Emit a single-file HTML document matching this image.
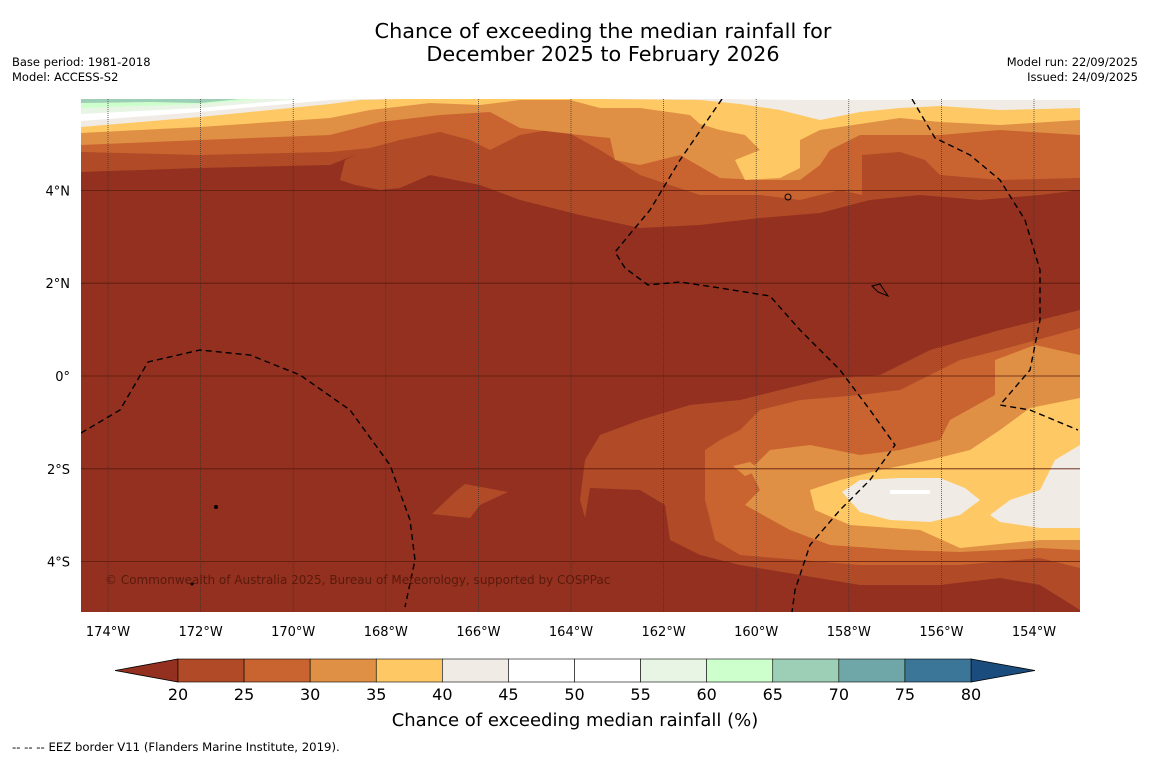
<!DOCTYPE html>
<html><head><meta charset="utf-8"><style>
body{margin:0;background:#fff;width:1150px;height:758px;overflow:hidden;font-family:"DejaVu Sans","Liberation Sans",sans-serif}
svg{display:block}
</style></head><body>
<svg width="1150" height="758" viewBox="0 0 1150 758">
<text x="603" y="38" text-anchor="middle" font-size="20.8" fill="#000">Chance of exceeding the median rainfall for</text>
<text x="603" y="61" text-anchor="middle" font-size="20.8" fill="#000">December 2025 to February 2026</text>
<text x="12" y="66" font-size="11.5">Base period: 1981-2018</text>
<text x="12" y="81" font-size="11.5">Model: ACCESS-S2</text>
<text x="1138" y="66" font-size="11.5" text-anchor="end">Model run: 22/09/2025</text>
<text x="1138" y="81" font-size="11.5" text-anchor="end">Issued: 24/09/2025</text>
<defs><clipPath id="mc"><rect x="81" y="99" width="999" height="513"/></clipPath></defs>
<g clip-path="url(#mc)">
<rect x="81" y="99" width="999" height="513" fill="#93301f"/>
<polygon fill="#b04a27" points="81,99 1080,99 1080,190 1040,195 980,200 920,195 870,200 820,213 760,218 700,225 640,228 580,215 520,200 480,185 430,175 400,188 380,190 355,185 340,180 345,160 355,155 330,165 200,168 81,172"/>
<polygon fill="#c96430" points="81,99 1080,99 1080,178 1000,180 940,175 925,160 900,152 862,155 862,195 840,190 800,200 760,195 700,195 640,175 600,150 560,128 520,135 490,150 470,140 440,132 400,140 370,148 330,152 200,155 81,152"/>
<polygon fill="#e09044" points="81,99 1080,99 1080,135 1000,130 940,135 860,135 830,150 820,165 800,180 760,180 720,178 680,155 640,165 615,160 610,138 580,135 520,128 490,112 440,115 380,122 330,135 200,140 81,145"/>
<polygon fill="#fec864" points="81,99 1080,99 1080,120 1000,125 940,122 900,118 820,130 800,140 800,168 780,178 745,180 735,160 760,150 745,135 720,130 700,124 690,115 640,108 600,108 570,100 520,100 480,105 430,103 370,110 330,118 200,127 81,133"/>
<polygon fill="#f0ebe4" points="81,99 1080,99 1080,108 1000,110 940,106 900,108 860,112 820,120 780,110 740,104 700,100 600,99 520,99 480,99 400,99 360,100 330,104 200,117 81,127"/>
<polygon fill="#ffffff" points="81,99 1080,99 1080,100 900,100 800,100 720,99 360,99 330,100 200,112 81,121"/>
<polygon fill="#e8f5e4" points="81,99 300,99 200,108 81,114"/>
<polygon fill="#ccffcc" points="81,99 260,99 200,104 81,108"/>
<polygon fill="#9ccfb5" points="81,99 240,99 200,103 150,102 81,103"/>
<polygon fill="#b04a27" points="1080,310 1000,330 930,350 880,375 830,378 780,390 740,400 690,405 640,420 600,435 585,460 580,500 585,518 590,488 640,490 665,505 670,540 700,555 740,565 800,575 860,585 940,585 1000,578 1040,585 1080,610 1080,612"/>
<polygon fill="#b04a27" points="432,514 455,492 465,484 508,492 480,505 470,518"/>
<polygon fill="#c96430" points="1080,328 1000,350 960,360 920,380 900,390 860,395 800,400 760,410 740,430 720,440 705,450 705,500 715,540 740,555 800,560 860,565 960,565 1040,558 1080,568"/>
<polygon fill="#e09044" points="1080,355 1035,345 995,360 995,395 950,420 940,440 900,450 860,455 810,445 770,450 750,470 760,490 745,505 790,530 830,545 900,550 960,552 1040,548 1080,550"/>
<polygon fill="#e09044" points="733,466 750,462 760,470 745,476"/>
<polygon fill="#fec864" points="1080,398 1030,408 1000,430 970,450 930,460 880,470 840,480 810,490 815,510 850,525 920,530 960,548 1040,540 1080,540"/>
<polygon fill="#f0ebe4" points="842,492 860,480 900,478 940,478 965,488 980,500 960,515 930,522 890,520 860,512"/>
<polygon fill="#f0ebe4" points="990,515 1010,500 1040,490 1055,460 1080,445 1080,528 1040,528 1000,522"/>
<rect x="890" y="490" width="40" height="4" fill="#fff"/>
<g id="grid"></g>
<g fill="none" stroke="#000" stroke-width="1.4" stroke-dasharray="6,4">
<polyline points="81,433 120,410 148,362 200,350 250,355 300,375 350,410 390,465 410,520 415,560 405,607"/>
<polyline points="722,99 680,160 650,210 615,252 625,268 648,285 680,282 720,288 770,296 800,330 840,370 870,410 895,445 870,480 840,510 810,545 795,590 792,612"/>
<polyline points="912,99 935,138 970,155 1000,180 1025,220 1040,270 1040,320 1030,370 1000,405 1030,410 1078,430"/>
</g>
<ellipse cx="788" cy="197" rx="3" ry="3" fill="none" stroke="#000"/>
<path d="M872,286 L880,284 L888,296 L878,292Z" fill="none" stroke="#000"/>
<circle cx="216" cy="507" r="2" fill="#000"/>
<circle cx="192" cy="584" r="1.5" fill="#000"/>
<text x="105" y="584" font-size="12" fill="#5a1a0c">© Commonwealth of Australia 2025, Bureau of Meteorology, supported by COSPPac</text>
</g>
<g id="axes"></g>
<g id="cbar"></g>
<text x="575" y="726" text-anchor="middle" font-size="18">Chance of exceeding median rainfall (%)</text>
<text x="12" y="751" font-size="11.7">--  --  -- EEZ border V11 (Flanders Marine Institute, 2019).</text>
</svg>
<script>
const lonTicks=[174,172,170,168,166,164,162,160,158,156,154];
const latTicks=[4,2,0,-2,-4];
const cbTicks=[20,25,30,35,40,45,50,55,60,65,70,75,80];
const cbColors=["#b04a27","#c96430","#e09044","#fec864","#f0ebe4","#ffffff","#ffffff","#e8f5e4","#ccffcc","#9ccfb5","#6fa6a8","#3b7597"];
const NS="http://www.w3.org/2000/svg";
const xLon=l=>108+(174-l)*46.3;
const yLat=a=>376-a*46.4;
const xCb=v=>178+(v-20)*(971-178)/60;
function mk(t,a,p){const e=document.createElementNS(NS,t);for(const k in a)e.setAttribute(k,a[k]);p.appendChild(e);return e;}
const g=document.getElementById('grid'),ax=document.getElementById('axes'),cb=document.getElementById('cbar');
lonTicks.forEach(l=>{const x=xLon(l);
 const ln=mk('line',{x1:x,x2:x,y1:99,y2:612,stroke:'#333','stroke-width':0.7,'stroke-dasharray':'1,1'},g);
 
 
 const t=mk('text',{x:x,y:636,'text-anchor':'middle','font-size':13},ax);t.textContent=l+'°W';
 
 });
latTicks.forEach(a=>{const y=yLat(a);
 const ln=mk('line',{x1:81,x2:1080,y1:y,y2:y,stroke:'#5a1a0c','stroke-width':0.8},g);
 
 
 const t=mk('text',{x:70,y:y+5,'text-anchor':'end','font-size':13},ax);t.textContent=a===0?'0°':Math.abs(a)+'°'+(a>0?'N':'S');
 
 });
const tl=mk('polygon',{points:`115,670.5 ${xCb(20)},659 ${xCb(20)},682`,fill:'#93301f',stroke:'#000','stroke-width':0.8},cb);


const tr=mk('polygon',{points:`1035,670.5 ${xCb(80)},659 ${xCb(80)},682`,fill:'#1a4d7e',stroke:'#000','stroke-width':0.8},cb);


cbColors.forEach((c,i)=>{const x0=xCb(cbTicks[i]),x1=xCb(cbTicks[i+1]);
 const r=mk('rect',{x:x0,y:659,width:x1-x0,height:23,fill:c,stroke:'#000','stroke-width':0.6},cb);
 
 });
cbTicks.forEach(v=>{const t=mk('text',{x:xCb(v),y:700,'text-anchor':'middle','font-size':16},cb);t.textContent=v;
 
 });
</script>
</body></html>
